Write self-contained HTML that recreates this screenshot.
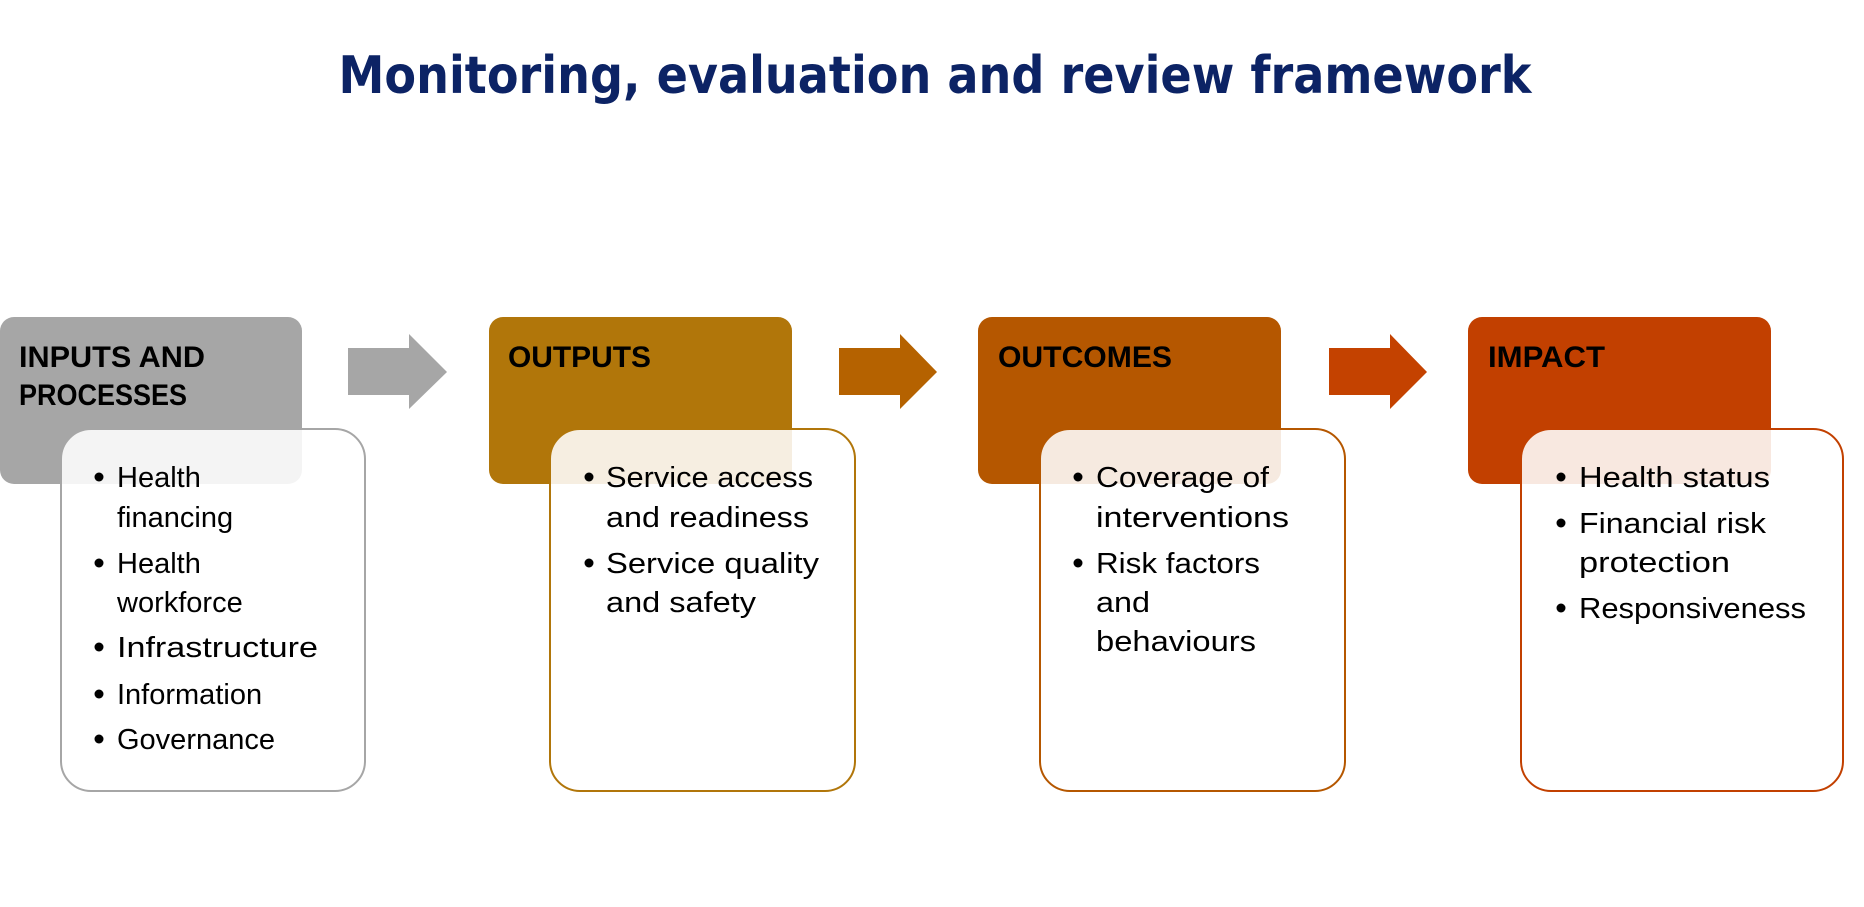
<!DOCTYPE html>
<html><head><meta charset="utf-8"><style>
html,body{margin:0;padding:0;background:#fff;width:1864px;height:907px;overflow:hidden}
svg{display:block}
.h{font-family:"Liberation Sans",sans-serif;font-weight:bold;font-size:30px;fill:#000}
.b{font-family:"Liberation Sans",sans-serif;font-size:29px;fill:#000}
</style></head><body>
<svg width="1864" height="907" viewBox="0 0 1864 907">
<text x="935" y="93" text-anchor="middle" textLength="1193" lengthAdjust="spacingAndGlyphs" style="font-family:'DejaVu Sans','Liberation Sans',sans-serif;font-weight:bold;font-size:52px;fill:#0c2365">Monitoring, evaluation and review framework</text>

<rect x="0" y="317" width="302" height="167" rx="14" fill="#a6a6a6"/>
<rect x="489" y="317" width="303" height="167" rx="14" fill="#b1760a"/>
<rect x="978" y="317" width="303" height="167" rx="14" fill="#b55700"/>
<rect x="1468" y="317" width="303" height="167" rx="14" fill="#c24000"/>

<text class="h" x="19" y="367" textLength="186" lengthAdjust="spacingAndGlyphs">INPUTS AND</text>
<text class="h" x="19" y="405" textLength="168" lengthAdjust="spacingAndGlyphs">PROCESSES</text>
<text class="h" x="508" y="367" textLength="143" lengthAdjust="spacingAndGlyphs">OUTPUTS</text>
<text class="h" x="998" y="367" textLength="174" lengthAdjust="spacingAndGlyphs">OUTCOMES</text>
<text class="h" x="1488" y="367" textLength="117" lengthAdjust="spacingAndGlyphs">IMPACT</text>

<polygon points="348,348 409,348 409,334 447,372 409,409 409,395 348,395" fill="#a6a6a6"/>
<polygon points="839,348 900,348 900,334 937,372 900,409 900,395 839,395" fill="#b56200"/>
<polygon points="1329,348 1390,348 1390,334 1427,372 1390,409 1390,395 1329,395" fill="#c44200"/>

<rect x="61" y="429" width="304" height="362" rx="30" fill="rgba(255,255,255,0.88)" stroke="#a6a6a6" stroke-width="2"/>
<rect x="550" y="429" width="305" height="362" rx="30" fill="rgba(255,255,255,0.88)" stroke="#b1760a" stroke-width="2"/>
<rect x="1040" y="429" width="305" height="362" rx="30" fill="rgba(255,255,255,0.88)" stroke="#b55700" stroke-width="2"/>
<rect x="1521" y="429" width="322" height="362" rx="30" fill="rgba(255,255,255,0.88)" stroke="#c24000" stroke-width="2"/>

<g class="b">
<circle cx="99" cy="477" r="4.5"/><text x="117" y="487">Health</text>
<text x="117" y="527">financing</text>
<circle cx="99" cy="563" r="4.5"/><text x="117" y="573">Health</text>
<text x="117" y="612">workforce</text>
<circle cx="99" cy="647" r="4.5"/><text x="117" y="657" textLength="201" lengthAdjust="spacingAndGlyphs">Infrastructure</text>
<circle cx="99" cy="694" r="4.5"/><text x="117" y="704">Information</text>
<circle cx="99" cy="739" r="4.5"/><text x="117" y="749">Governance</text>
</g>
<g class="b">
<circle cx="589" cy="477" r="4.5"/><text x="606" y="487" textLength="207" lengthAdjust="spacingAndGlyphs">Service access</text>
<text x="606" y="527" textLength="203" lengthAdjust="spacingAndGlyphs">and readiness</text>
<circle cx="589" cy="563" r="4.5"/><text x="606" y="573" textLength="213" lengthAdjust="spacingAndGlyphs">Service quality</text>
<text x="606" y="612" textLength="150" lengthAdjust="spacingAndGlyphs">and safety</text>
</g>
<g class="b">
<circle cx="1078" cy="477" r="4.5"/><text x="1096" y="487" textLength="173" lengthAdjust="spacingAndGlyphs">Coverage of</text>
<text x="1096" y="527" textLength="193" lengthAdjust="spacingAndGlyphs">interventions</text>
<circle cx="1078" cy="563" r="4.5"/><text x="1096" y="573" textLength="164" lengthAdjust="spacingAndGlyphs">Risk factors</text>
<text x="1096" y="612" textLength="54" lengthAdjust="spacingAndGlyphs">and</text>
<text x="1096" y="651" textLength="160" lengthAdjust="spacingAndGlyphs">behaviours</text>
</g>
<g class="b">
<circle cx="1561" cy="477" r="4.5"/><text x="1579" y="487" textLength="191" lengthAdjust="spacingAndGlyphs">Health status</text>
<circle cx="1561" cy="523" r="4.5"/><text x="1579" y="533" textLength="187" lengthAdjust="spacingAndGlyphs">Financial risk</text>
<text x="1579" y="572" textLength="151" lengthAdjust="spacingAndGlyphs">protection</text>
<circle cx="1561" cy="608" r="4.5"/><text x="1579" y="618" textLength="227" lengthAdjust="spacingAndGlyphs">Responsiveness</text>
</g>
</svg>
</body></html>
